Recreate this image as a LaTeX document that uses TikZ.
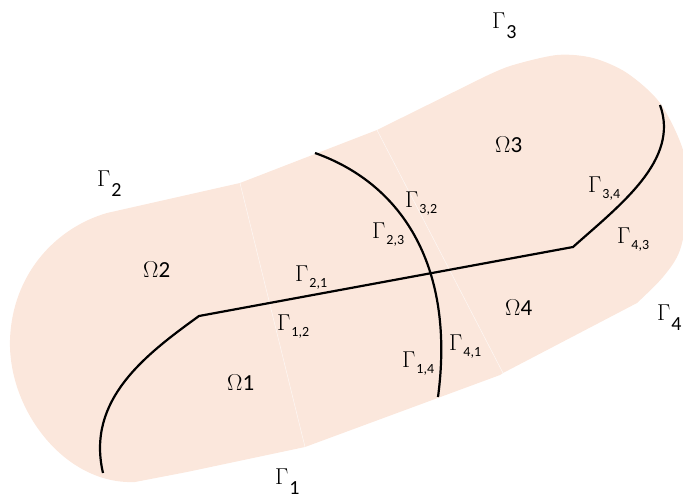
\documentclass[tikz,border=0pt]{standalone}
\usepackage{fix-cm}
\usepackage[no-math]{fontspec}
\setmainfont{Carlito}
\usepackage{xcolor}
\usetikzlibrary{positioning}
\definecolor{peach}{HTML}{FBE7DC}
\newcommand{\bdry}[1]{$\Gamma$\kern1pt\raisebox{-10pt}{\fontsize{20}{22}\selectfont #1}}
\newcommand{\intf}[1]{$\Gamma$\kern1pt\raisebox{-6.5pt}{\fontsize{14}{16}\selectfont #1}}
\newcommand{\subdom}[1]{$\Omega$#1}

\begin{document}
\begin{tikzpicture}[
  x=1pt, y=-1pt,
  lbl/.style={anchor=base west, inner sep=0pt, font=\fontsize{23}{26}\selectfont},
  iface/.style={line width=2.2pt},
  seam/.style={white, line width=0.5pt, opacity=0.7}
]
\useasboundingbox (0,0) rectangle (683,498);

\fill[peach] (187,472) -- (305,447) -- (500,375) -- (503,373) -- (637,303)
  -- plot[smooth] coordinates {(637,303) (663,277) (680,250) (689,200) (683,150) (660,103) (627,73) (593,58) (557,55) (510,66) (480,79)}
  -- (377,130) -- (240,183) -- (107,213)
  .. controls (55,228) and (12,275) .. (10,340)
  .. controls (8,410) and (65,485) .. (135,482) -- cycle;

\draw[seam] (240,183) -- (305,447);
\draw[seam] (377,130) -- (503,373);

\coordinate (kinkL) at (199,316);
\coordinate (kinkR) at (573,247);
\draw[iface] (103,473) .. controls (86,400) and (145,355) .. (kinkL)
  -- (kinkR) .. controls (620,205) and (680,160) .. (660,105);
\draw[iface] (315,153) .. controls (405,185) and (455,270) .. (438,397);

\node[lbl] (om1) at (227,390) {\subdom{1}};
\node[lbl] (om2) at (143,277) {\subdom{2}};
\node[lbl] (om3) at (495,152) {\subdom{3}};
\node[lbl] (om4) at (505,315) {\subdom{4}};

\node[lbl] (g1) at (275,484) {\bdry{1}};
\node[lbl] (g2) at (97,186) {\bdry{2}};
\node[lbl] (g3) at (492,28) {\bdry{3}};
\node[lbl] (g4) at (657,320) {\bdry{4}};

\node[lbl] (g21) at (295,281) {\intf{2,1}};
\node[lbl] (g12) at (277,330) {\intf{1,2}};
\node[lbl] (g23) at (372,238) {\intf{2,3}};
\node[lbl] (g32) at (405,207) {\intf{3,2}};
\node[lbl] (g14) at (402,367) {\intf{1,4}};
\node[lbl] (g41) at (449,350) {\intf{4,1}};
\node[lbl] (g34) at (588,192) {\intf{3,4}};
\node[lbl] (g43) at (617,243) {\intf{4,3}};
\end{tikzpicture}
\end{document}
